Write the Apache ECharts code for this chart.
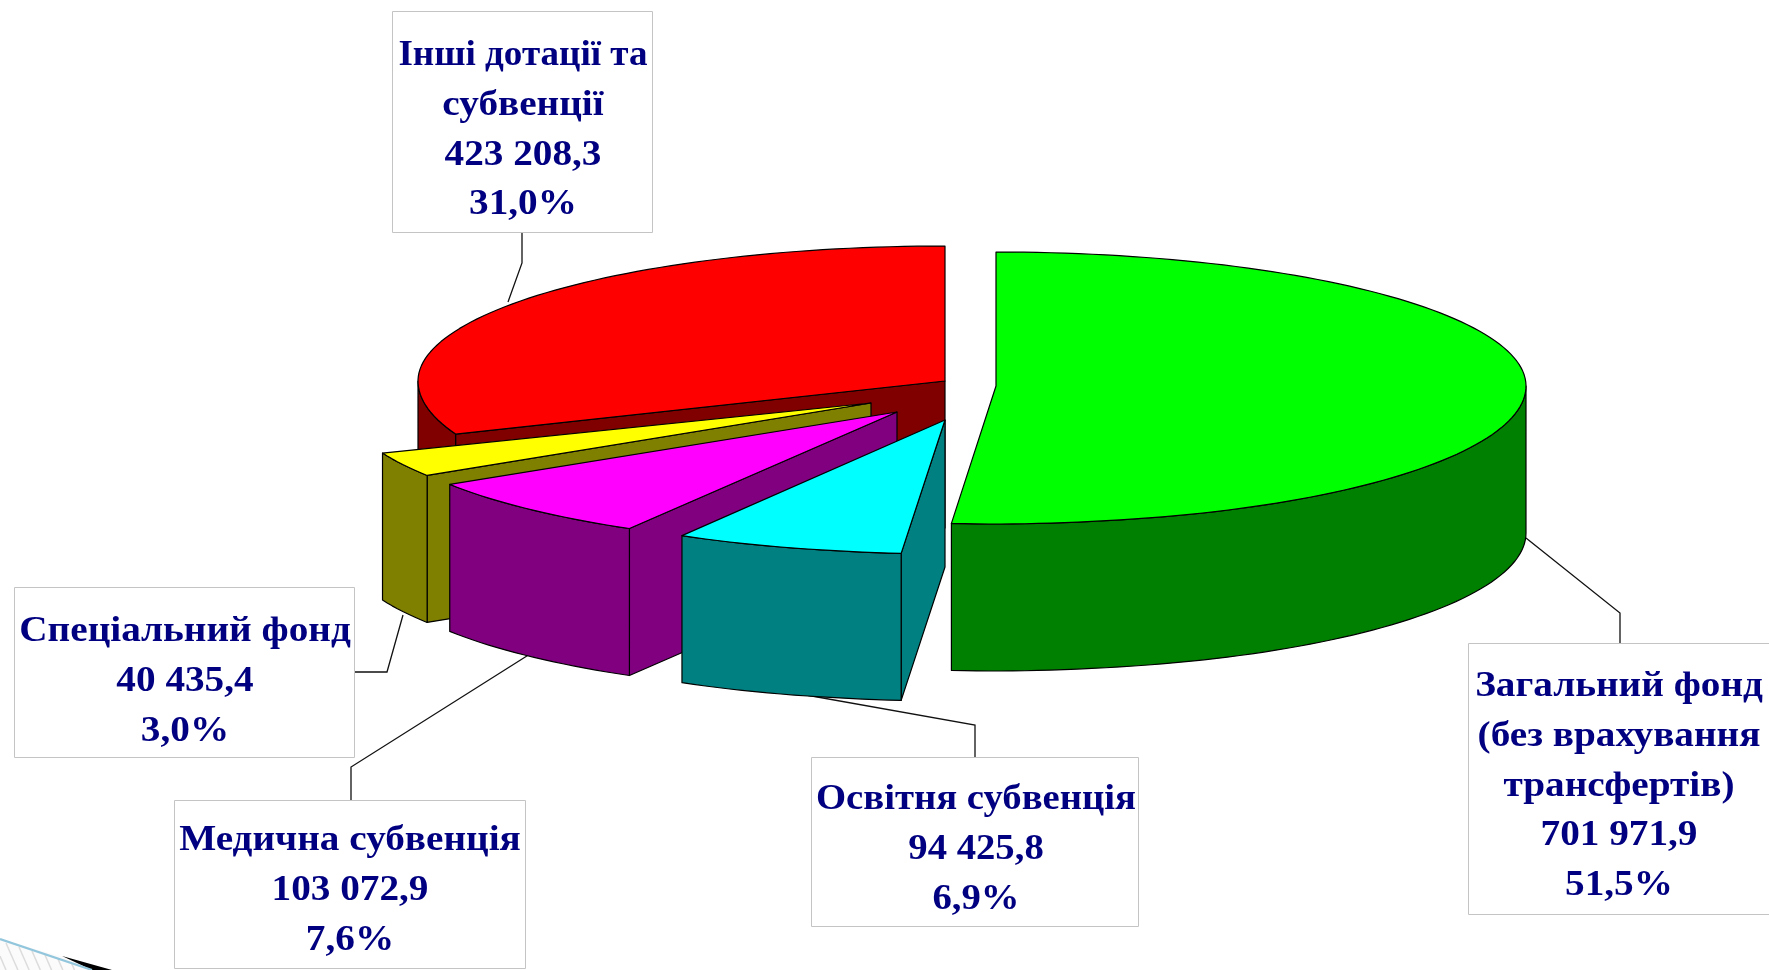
<!DOCTYPE html>
<html><head><meta charset="utf-8">
<style>html,body{margin:0;padding:0;background:#fff}#c{width:1769px;height:970px}</style>
<script src="https://cdn.jsdelivr.net/npm/echarts@6/dist/echarts.min.js"></script>
</head><body><div id="c"></div>
<script>
// Data (clockwise from 12 o'clock)
const names = ['Загальний фонд\n(без врахування\nтрансфертів)','Освітня субвенція','Медична субвенція','Спеціальний фонд','Інші дотації та\nсубвенції'];
const values = [701971.9, 94425.8, 103072.9, 40435.4, 423208.3];
const valueLabels = ['701 971,9','94 425,8','103 072,9','40 435,4','423 208,3'];
const percentLabels = ['51,5%','6,9%','7,6%','3,0%','31,0%'];

// Styling / layout
const topColors = ['#00ff00','#00ffff','#ff00ff','#ffff00','#ff0000'];
const sideColors = ['#008000','#008080','#800080','#808000','#800000'];
const centres = [[996,386],[945,420],[897,412],[871,403],[945,381]];
const radiiX = [530,521,530,526,527];
const radiiBackY = [134,135,135,135,135];
const radiiFrontY = [138,134,135,135,143];
const boxes = [[1468,643,301,271],[811,757,327,169],[174,800,351,168],[14,587,340,170],[392,11,260,221]];
const textCentreX = [1619,976,350,185,523];
const textFirstY = [687,800,841,632,56];
const textStretch = [1.09,1.075,1.09,1.09,1.09];
const firstLineStretch = [1.09,1.075,1.09,1.09,1.03];
const leaders = [
  [[1526,538],[1620,613],[1620,643]],
  [[778,690],[975,725],[975,757]],
  [[530,654],[351,767],[351,800]],
  [[403,615],[387,672],[354,672]],
  [[522,232],[522,263],[508,302]]
];
const DEPTH = 147, LINE_H = 49.7;
const NAVY = '#000080';
const total = values.reduce((a,b)=>a+b,0);
const paintOrder = [4,3,2,1,0];

const rad = d => d*Math.PI/180;
function pt(i,deg,dy){
  const c = centres[i], cs = Math.cos(rad(deg));
  const u = Math.abs(deg-180);
  const warp = 1-0.128*Math.exp(-(u/12)*(u/12));   // perspective pull near the front of the pie
  return [c[0]+radiiX[i]*Math.sin(rad(deg))*warp, c[1]-(cs>0?radiiBackY[i]:radiiFrontY[i])*cs+(dy||0)];
}
function arc(i,a,b,dy){const n=Math.max(2,Math.ceil(Math.abs(b-a)/1.5));const r=[];for(let k=0;k<=n;k++)r.push(pt(i,a+(b-a)*k/n,dy));return r;}
function poly(points,fill){return {type:'polygon',shape:{points},style:{fill,stroke:'#000',lineWidth:1.2,lineJoin:'round'}};}

const starts = [];{let acc=0;values.forEach(v=>{starts.push(acc/total*360);acc+=v;});}

function renderSlice(params,api){
  const i = paintOrder[params.dataIndex];
  const a = starts[i], b = a+values[i]/total*360, c = centres[i];
  const kids = [];
  if(Math.sin(rad(a))<0){
    const p = pt(i,a);
    kids.push(poly([c,p,[p[0],p[1]+DEPTH],[c[0],c[1]+DEPTH]],sideColors[i]));
  }
  if(Math.sin(rad(b))>1e-6){
    const p = pt(i,b);
    kids.push(poly([c,p,[p[0],p[1]+DEPTH],[c[0],c[1]+DEPTH]],sideColors[i]));
  }
  const r0 = Math.max(a,90), r1 = Math.min(b,270);
  if(r1>r0){
    kids.push(poly(arc(i,r0,r1,0).concat(arc(i,r1,r0,DEPTH)),sideColors[i]));
  }
  kids.push(poly([c].concat(arc(i,a,b,0)),topColors[i]));
  return {type:'group',children:kids};
}
function renderLabel(params,api){
  const i = params.dataIndex;
  const bx = boxes[i], lines = names[i].split('\n').concat([valueLabels[i],percentLabels[i]]);
  const kids = [{type:'polyline',shape:{points:leaders[i]},style:{fill:null,stroke:'#111',lineWidth:1.3}},
    {type:'rect',shape:{x:bx[0]+.5,y:bx[1]+.5,width:bx[2],height:bx[3]},style:{fill:'#fff',stroke:'#c4c4c4',lineWidth:1}}];
  lines.forEach((t,k)=>kids.push({type:'text',x:textCentreX[i],y:textFirstY[i]+k*LINE_H,scaleX:k===0?firstLineStretch[i]:textStretch[i],
    style:{text:t,x:0,y:0,align:'center',verticalAlign:'middle',fill:NAVY,font:'bold 36px "Liberation Serif"'}}));
  return {type:'group',children:kids};
}
// bottom-left slide-theme decoration
const hatchStarts = [[6,943],[19,947],[32,951],[45,955],[58,959],[71,962]];
const decoration = [
  {type:'polygon',shape:{points:[[0,939],[110,970],[0,970]]},style:{fill:'#fbfbfb'},z:0},
  {type:'polyline',shape:{points:[[0,956],[6,970]]},style:{stroke:'#dcdcdc',lineWidth:1.5,fill:null},z:0}
].concat(hatchStarts.map(p=>({type:'line',shape:{x1:p[0],y1:p[1],x2:p[0]+(970-p[1])*0.44,y2:970},style:{stroke:'#dcdcdc',lineWidth:1.5},z:0})))
.concat([
  {type:'polygon',shape:{points:[[62,956],[112,970],[92,970]]},style:{fill:'#000'},z:1},
  {type:'line',shape:{x1:0,y1:939,x2:92,y2:970},style:{stroke:'#92c6dc',lineWidth:2.2},z:1}
]);
const chart = echarts.init(document.getElementById('c'),null,{renderer:'canvas'});
chart.setOption({
  animation:false,backgroundColor:'#fff',
  graphic:decoration,
  xAxis:{show:false},yAxis:{show:false},
  series:[
    {type:'custom',coordinateSystem:'none',silent:true,z:3,renderItem:renderLabel,data:values.map((v,i)=>[i,v])},
    {type:'custom',coordinateSystem:'none',silent:true,z:4,renderItem:renderSlice,data:paintOrder.map(i=>[i,values[i]])}
  ]
});
</script></body></html>
